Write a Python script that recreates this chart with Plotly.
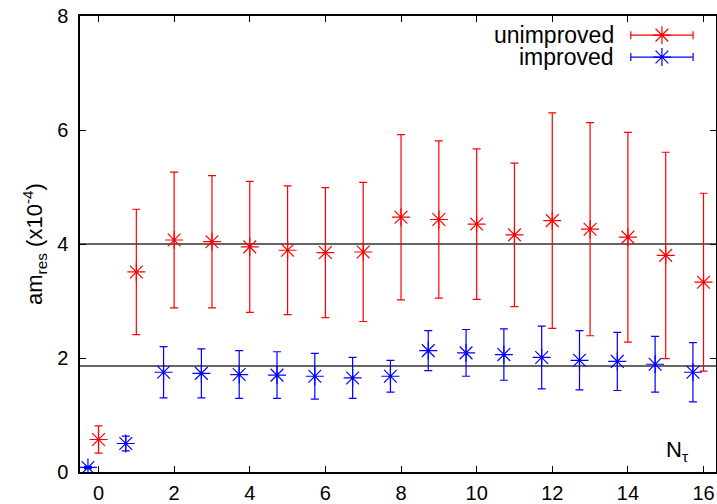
import plotly.graph_objects as go

# ---- data ----
n_tau = list(range(17))
blue_shift = -0.28

unimproved = [0.57, 3.51, 4.07, 4.04, 3.95, 3.89, 3.85, 3.86, 4.47, 4.43, 4.35, 4.16, 4.41, 4.26, 4.12, 3.80, 3.33]
unimproved_err = [0.24, 1.10, 1.19, 1.16, 1.15, 1.13, 1.14, 1.22, 1.45, 1.38, 1.32, 1.26, 1.89, 1.87, 1.84, 1.81, 1.56]

improved = [0.08, 0.50, 1.75, 1.73, 1.71, 1.70, 1.68, 1.65, 1.68, 2.13, 2.09, 2.06, 2.01, 1.96, 1.94, 1.89, 1.75]
improved_err = [0.02, 0.13, 0.45, 0.43, 0.42, 0.41, 0.40, 0.36, 0.28, 0.35, 0.41, 0.45, 0.55, 0.52, 0.51, 0.49, 0.52]

ref_lines = [4.0, 1.86]
x_ticks = [0, 2, 4, 6, 8, 10, 12, 14, 16]
y_ticks = [0, 2, 4, 6, 8]

series_names = ["unimproved", "improved"]
RED = "#ff0000"
BLUE = "#0000ff"
FONT = "Liberation Sans, Arial, Helvetica, sans-serif"

fig = go.Figure()

# reference lines
for yv in ref_lines:
    fig.add_hline(y=yv, line=dict(color="#333333", width=1.3), layer="below")

fig.add_trace(go.Scatter(
    x=n_tau, y=unimproved, mode="markers", name=series_names[0],
    marker=dict(symbol="asterisk-open", size=15, color=RED, line=dict(color=RED, width=1.2)),
    error_y=dict(type="data", array=unimproved_err, visible=True, color=RED, thickness=1.2, width=4),
    showlegend=False,
))
fig.add_trace(go.Scatter(
    x=[v + blue_shift for v in n_tau], y=improved, mode="markers", name=series_names[1],
    marker=dict(symbol="asterisk-open", size=15, color=BLUE, line=dict(color=BLUE, width=1.2)),
    error_y=dict(type="data", array=improved_err, visible=True, color=BLUE, thickness=1.2, width=4),
    showlegend=False,
))

# custom legend (gnuplot style) on overlay axes in [0,1]
leg_x = 0.915
leg_half = 0.049
leg_y = [0.958, 0.910]
for name, col, yy in zip(series_names, [RED, BLUE], leg_y):
    fig.add_trace(go.Scatter(
        x=[leg_x], y=[yy], xaxis="x2", yaxis="y2", mode="markers", showlegend=False, hoverinfo="skip",
        marker=dict(symbol="asterisk-open", size=15, color=col, line=dict(color=col, width=1.2)),
        error_x=dict(type="data", array=[leg_half], visible=True, color=col, thickness=1.2, width=4),
    ))
    fig.add_annotation(x=0.843, y=yy, xref="x2", yref="y2", text=name, showarrow=False,
                       xanchor="right", yanchor="middle", font=dict(family=FONT, size=23, color="black"))

fig.add_annotation(x=0.939, y=0.045, xref="paper", yref="paper", text="N<sub>τ</sub>", showarrow=False,
                   xanchor="center", yanchor="middle", font=dict(family=FONT, size=22, color="black"))

axis_common = dict(showline=True, linecolor="black", linewidth=1.5, mirror="ticks", ticks="inside",
                   ticklen=6, tickwidth=1.2, tickcolor="black", showgrid=False, zeroline=False,
                   tickfont=dict(family=FONT, size=20, color="black"))

fig.update_layout(
    width=717, height=504,
    margin=dict(l=80, r=1, t=16, b=32, autoexpand=False),
    plot_bgcolor="white", paper_bgcolor="white",
    font=dict(family=FONT, color="black"),
    xaxis=dict(range=[-0.49, 16.33], tickvals=x_ticks, ticktext=[str(v) for v in x_ticks],
               automargin=False, ticklabelstandoff=2, **axis_common),
    yaxis=dict(range=[0, 8], tickvals=y_ticks, ticktext=[str(v) for v in y_ticks], automargin=False,
               ticklabelstandoff=6,
               title=dict(text="am<sub>res</sub> (x10<sup>-4</sup>)", font=dict(family=FONT, size=22), standoff=8),
               **axis_common),
    xaxis2=dict(overlaying="x", range=[0, 1], visible=False),
    yaxis2=dict(overlaying="y", range=[0, 1], visible=False),
    showlegend=False,
)

fig.write_html("out.html", config={"displayModeBar": False},
               post_script="document.body.style.margin='0';document.body.style.padding='0';")
